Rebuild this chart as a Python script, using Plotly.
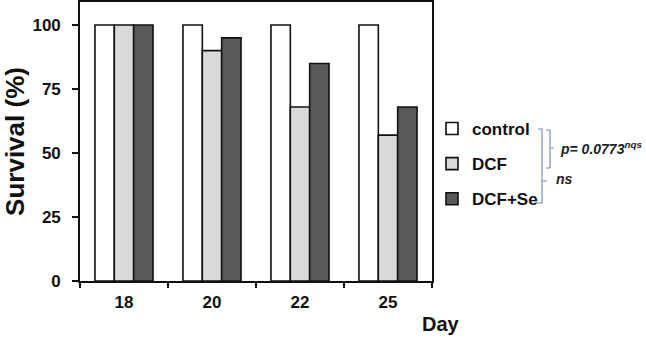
import plotly.graph_objects as go

days = ["18", "20", "22", "25"]
control = [100, 100, 100, 100]
dcf = [100, 90, 68, 57]
dcf_se = [100, 95, 85, 68]
series_names = ["control", "DCF", "DCF+Se"]
series_colors = ["#ffffff", "#d9d9d9", "#595959"]
y_ticks = [0, 25, 50, 75, 100]

W, H = 646, 338
ML, MR, MT, MB = 80, 214, 2, 57
PW, PH = W - ML - MR, H - MT - MB

def px(x):
    return (x - ML) / PW

def py(y):
    return (H - MB - y) / PH

FONT = "Liberation Sans Narrow, Arial Narrow, Liberation Sans, Arial, sans-serif"
FONT_R = "Liberation Sans, Arial, sans-serif"

fig = go.Figure()
for i, (name, vals, col) in enumerate(zip(series_names, [control, dcf, dcf_se], series_colors)):
    fig.add_trace(go.Bar(
        x=days, y=vals, name=name, legendgroup=name,
        marker=dict(color=col, line=dict(color="#111111", width=1.6)),
    ))

fig.update_layout(
    width=W, height=H,
    margin=dict(l=ML, r=MR, t=MT, b=MB, autoexpand=False),
    paper_bgcolor="white", plot_bgcolor="white",
    barmode="group", bargap=0.34, bargroupgap=0,
    font=dict(family=FONT, size=17, color="#111111", weight="bold"),
    legend=dict(x=1.0, xanchor="left", y=py(164), yanchor="middle",
                font=dict(family=FONT, size=17, color="#111111", weight="bold"),
                tracegroupgap=10, bgcolor="rgba(0,0,0,0)"),
    showlegend=True,
)
fig.update_xaxes(
    type="category", categoryorder="array", categoryarray=days,
    showline=True, linecolor="#111111", linewidth=1.6, mirror=True,
    ticks="outside", tickson="boundaries", ticklen=5, tickwidth=1.6, tickcolor="#111111",
    showgrid=False, ticklabelstandoff=5,
    tickfont=dict(family=FONT, size=17, weight="bold"),
)
fig.update_yaxes(
    range=[0, 109], tickvals=y_ticks,
    showline=True, linecolor="#111111", linewidth=1.6, mirror=True,
    ticks="outside", ticklen=6, tickwidth=1.6, tickcolor="#111111",
    showgrid=False, zeroline=False, ticklabelstandoff=8,
    tickfont=dict(family=FONT, size=17, weight="bold"),
    title=dict(text="Survival (%)", standoff=7,
               font=dict(family=FONT, size=26, weight="bold")),
    automargin=False,
)

fig.add_annotation(x=px(441), y=py(324), xref="paper", yref="paper",
                   text="Day", showarrow=False, xanchor="center", yanchor="middle",
                   font=dict(family=FONT, size=20, weight="bold", color="#111111"))

BLUE = "#7391cc"
# inner bracket (control vs DCF)
fig.add_shape(type="path", xref="paper", yref="paper",
              path=f"M {px(546)},{py(130)} L {px(550)},{py(130)} L {px(550)},{py(168)} L {px(546)},{py(168)} "
                   f"M {px(550)},{py(148)} L {px(554)},{py(148)}",
              line=dict(color=BLUE, width=1.2))
# outer bracket (control vs DCF+Se)
fig.add_shape(type="path", xref="paper", yref="paper",
              path=f"M {px(538)},{py(129)} L {px(542)},{py(129)} L {px(542)},{py(203)} L {px(537)},{py(203)} "
                   f"M {px(542)},{py(181)} L {px(547)},{py(181)}",
              line=dict(color=BLUE, width=1.2))

fig.add_annotation(x=px(558), y=py(148), xref="paper", yref="paper",
                   text="<i>p= 0.0773<sup>nqs</sup></i>", showarrow=False,
                   xanchor="left", yanchor="middle",
                   font=dict(family=FONT_R, size=14, weight="bold", color="#222222"))
fig.add_annotation(x=px(554), y=py(179), xref="paper", yref="paper",
                   text="<i>ns</i>", showarrow=False,
                   xanchor="left", yanchor="middle",
                   font=dict(family=FONT_R, size=14, weight="bold", color="#222222"))

fig.write_html("out.html", config={"displayModeBar": False},
               post_script="document.body.style.margin='0';")
